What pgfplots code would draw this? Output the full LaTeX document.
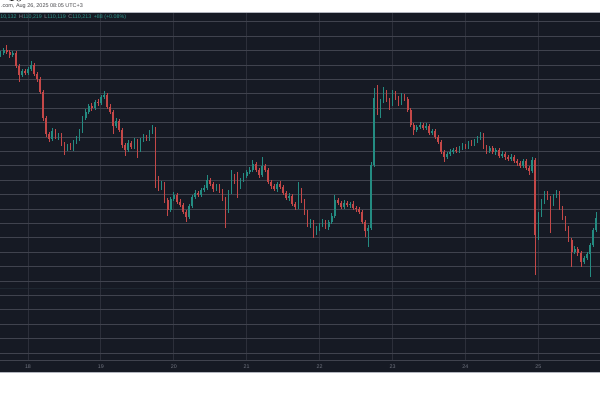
\documentclass[border=0pt]{standalone}
\usepackage{pgfplots}
\pgfplotsset{compat=1.18}
\usepackage{pgfplotstable}
\usepackage{fontspec}
\setmainfont{Liberation Sans}

\definecolor{panel}{RGB}{22,26,36}
\definecolor{hgrid}{RGB}{64,67,78}
\definecolor{vgrid}{RGB}{44,47,58}
\definecolor{frameline}{RGB}{178,181,190}
\definecolor{upc}{RGB}{36,140,130}
\definecolor{downc}{RGB}{196,72,72}
\definecolor{tickc}{RGB}{112,116,128}
\definecolor{valc}{RGB}{45,150,138}
\definecolor{keyc}{RGB}{140,144,155}
\definecolor{stampc}{RGB}{70,70,74}
\definecolor{faint}{RGB}{30,38,48}

% hourly candles, n = hours since Aug 17 15:00 (n = 9 is Aug 18 00:00)
% rising candles
\pgfplotstableread{
n o h l c
0 126500 126900 126300 126700
1 126700 127200 126500 127000
4 126500 126900 126300 126700
7 124500 125100 124300 124900
9 124700 125300 124500 125100
10 125100 125900 124900 125500
17 118100 119200 117900 118900
19 118300 118700 118000 118500
22 117100 117600 116900 117400
24 117200 118000 116900 117800
25 117800 118400 117600 118100
26 118100 119100 117900 118900
27 118900 120400 118700 120200
28 120200 121100 120000 120800
29 120800 121600 120600 121400
31 121200 122000 121000 121800
33 121700 122500 121500 122300
34 122300 122900 122100 122500
38 119400 120200 119200 119900
42 117000 118000 116800 117700
44 117300 118200 117100 117900
46 117000 118200 116800 118000
47 118000 118600 117800 118300
49 118100 119000 117900 118800
50 118800 119500 118600 119100
53 113200 113900 113000 113600
56 111000 112300 110800 112100
57 112100 112800 111900 112500
62 110300 111600 110100 111400
63 111400 112500 111200 112300
64 112300 113000 112100 112700
66 112500 113200 112300 113000
67 113000 113500 112800 113200
68 113200 114500 113000 114000
71 113100 113600 112900 113400
75 111000 113000 110700 112800
76 112800 115000 112600 114400
79 113400 114200 113100 114000
80 114000 114700 113800 114400
81 114400 115000 114200 114800
82 114800 115300 114600 115000
83 115000 116000 114800 115600
86 114500 116300 114300 115400
91 113100 113800 112800 113600
95 112200 112700 111900 112400
98 111300 113800 111100 113000
102 109500 110100 109200 109800
104 108800 109400 108500 109100
105 109100 109700 108900 109500
106 109500 110100 109300 109800
108 109300 110000 109000 109800
109 109800 110700 109600 110400
110 110400 112500 110200 112000
113 111300 112000 111100 111700
115 111500 111800 111200 111600
121 108900 109500 107300 109200
122 109200 115800 109000 115500
123 115500 123200 115300 122200
125 121200 122100 120200 121900
126 121900 123300 121700 122800
129 121600 123000 121400 122700
132 121700 122700 121500 122400
137 119000 119500 118800 119300
138 119300 119800 119100 119500
140 119200 119700 119000 119400
142 118700 119100 118500 118900
147 116300 116800 116100 116600
148 116600 117100 116400 116800
149 116800 117200 116600 117000
151 116900 117400 116700 117200
152 117200 117700 117000 117400
154 117300 117900 117100 117700
156 117600 118100 117400 117900
157 117900 118400 117700 118200
158 118200 118800 118000 118500
161 116900 117400 116700 117200
163 116800 117200 116500 117000
165 116400 116900 116200 116600
168 116100 116600 115900 116300
172 115400 116100 115200 115900
175 114900 116300 114700 116000
177 108500 110800 108000 110500
178 110500 112100 110300 111800
179 111800 112900 111600 112600
182 111600 112600 111400 112400
183 112400 113000 112200 112700
189 106800 107400 106600 107100
192 105800 106400 105600 106200
193 106200 106800 106000 106600
194 106600 107700 104300 107500
195 107500 109200 107300 109000
196 109000 110800 108800 110200
}\uptab

% falling candles
\pgfplotstableread{
n o h l c
2 127000 127500 126600 126800
3 126800 127000 126200 126500
5 126700 126900 125200 125400
6 125400 125600 123800 124500
8 124900 125100 124500 124700
11 125500 125700 124400 124600
12 124600 124800 123800 124100
13 124100 124300 122600 122800
14 122800 123000 119900 120200
15 120200 120400 118300 118600
16 118600 118800 117800 118100
18 118900 119100 118100 118300
20 118500 118700 117400 117600
21 117600 117800 116500 117100
23 117400 117700 117000 117200
30 121400 121700 120900 121200
32 121800 122100 121400 121700
35 122500 122700 121100 121300
36 121300 121600 120600 120800
37 120800 121000 118600 119400
39 119900 120100 118800 119000
40 119000 119200 117200 117500
41 117500 117700 116400 117000
43 117700 117900 117100 117300
45 117900 118100 116200 117000
48 118300 118500 117900 118100
51 119100 119300 113200 114200
52 114200 114400 112900 113200
54 113600 113800 111700 112000
55 112000 112200 110400 111000
58 112500 112700 111600 111800
59 111800 112100 111300 111500
60 111500 111700 110600 110800
61 110800 111000 109800 110300
65 112700 112900 112300 112500
69 114000 114200 113400 113600
70 113600 113800 112800 113100
72 113400 113600 112700 112900
73 112900 113100 111900 112100
74 112100 112300 109200 111000
77 114400 114600 113600 113800
78 113800 114800 112200 113400
84 115600 115800 114800 115000
85 115000 115200 114200 114500
87 115400 115600 114800 115000
88 115000 115200 113600 113800
89 113800 114000 113100 113400
90 113400 113600 112900 113100
92 113600 113900 113100 113300
93 113300 113500 112500 112700
94 112700 112900 112000 112200
96 112400 112600 111400 111600
97 111600 111800 111000 111300
99 113000 113200 111700 111900
100 111900 112100 110500 110800
101 110800 111000 109300 109500
103 109800 110000 108200 108800
107 109800 110000 109100 109300
111 112000 112200 111500 111700
112 111700 111900 111100 111300
114 111700 111900 111300 111500
116 111600 111900 111000 111200
117 111200 111400 110800 111100
118 111100 111300 110600 110800
119 110800 111000 109600 109800
120 109800 110000 108300 108900
124 122200 123500 120500 121200
127 122800 123000 121800 122000
128 122000 122200 121000 121600
130 122700 122900 122000 122200
131 122200 122400 121400 121700
133 122400 122600 121900 122100
134 122100 122300 120800 121000
135 121000 121200 119300 119500
136 119500 119700 118500 119000
139 119500 119700 119000 119200
141 119400 119600 118500 118700
143 118900 119100 118100 118300
144 118300 118500 117600 117800
145 117800 118000 116600 116800
146 116800 117000 115800 116300
150 117000 117300 116700 116900
153 117400 117600 117100 117300
155 117700 118000 117400 117600
159 118500 118700 117100 117300
160 117300 117500 116600 116900
162 117200 117400 116600 116800
164 117000 117200 116200 116400
166 116600 116800 116000 116300
167 116300 116500 115900 116100
169 116300 116500 115700 115900
170 115900 116100 115400 115700
171 115700 115900 115200 115400
173 115900 116100 115000 115200
174 115200 115400 114500 114900
176 116000 116200 104500 108500
180 112600 112900 112000 112200
181 112200 112400 108700 111600
184 112700 112900 111000 111200
185 111200 111400 110000 110200
186 110200 110400 108900 109200
187 109200 109400 107800 108000
188 108000 108200 105300 106800
190 107100 107300 106400 106700
191 106700 106900 105300 105800
}\downtab

\pgfplotsset{
  candle/.style n args={2}{
    forget plot, draw=none, fill=none, mark=none, mark size=0pt,
    error bars/.cd, y dir=plus, y explicit, error mark=none,
    error bar style={draw=#1, line width=#2, solid}
  }
}

\begin{document}
\begin{tikzpicture}
\useasboundingbox (0,0) rectangle (15,10);
\clip (0,0) rectangle (15,10);
\fill[white] (0,0) rectangle (15,10);
\fill[panel] (0,0.675) rectangle (15,9.7);
\draw[faint, line width=0.7pt] (0,2.775) -- (15,2.775);

\begin{axis}[
  at={(0cm,0.975cm)}, anchor=south west,
  scale only axis, width=15cm, height=8.725cm,
  xmin=-0.218, xmax=197.31,
  ymin=95900, ymax=130800,
  axis line style={draw=none},
  major tick length=0pt,
  tick style={draw=none},
  xtick={9,33,57,81,105,129,153,177},
  xticklabels={18,19,20,21,22,23,24,25},
  ytick={96680,98120,...,129800},
  yticklabels={},
  xmajorgrids, ymajorgrids,
  major x grid style={vgrid, line width=0.7pt},
  major y grid style={hgrid, line width=0.7pt},
  xticklabel style={font=\fontsize{3.8}{4}\selectfont, text=tickc, anchor=center, yshift=-0.15cm},
]
% wicks: low to high
\addplot[candle={upc}{0.45pt}]
  table[x=n, y=l, y error plus expr=\thisrow{h}-\thisrow{l}] {\uptab};
\addplot[candle={downc}{0.45pt}]
  table[x=n, y=l, y error plus expr=\thisrow{h}-\thisrow{l}] {\downtab};
% bodies: open to close
\addplot[candle={upc}{1.15pt}]
  table[x=n, y=o, y error plus expr=\thisrow{c}-\thisrow{o}] {\uptab};
\addplot[candle={downc}{1.15pt}]
  table[x=n, y=c, y error plus expr=\thisrow{o}-\thisrow{c}] {\downtab};
\end{axis}

\draw[hgrid, line width=0.7pt] (0,0.975) -- (15,0.975);
\draw[frameline, line width=0.6pt] (0,9.7) -- (15,9.7);
\draw[frameline, line width=0.7pt] (0,0.675) -- (15,0.675);

\node[anchor=west, inner sep=0pt, text=stampc, font=\fontsize{3.9}{4}\selectfont]
  at (0.02,9.84) {.com, Aug 26, 2025 08:05 UTC+3};
\node[anchor=west, inner sep=0pt, font=\fontsize{3.8}{4}\selectfont]
  at (0,9.575) {\textcolor{valc}{10,132}\hspace{1.8pt}\textcolor{keyc}{H}\textcolor{valc}{110,219}\hspace{1.8pt}\textcolor{keyc}{L}\textcolor{valc}{110,119}\hspace{1.8pt}\textcolor{keyc}{C}\textcolor{valc}{110,213}\hspace{1.8pt}\textcolor{valc}{+88 (+0.08\%)}};
\end{tikzpicture}
\end{document}
